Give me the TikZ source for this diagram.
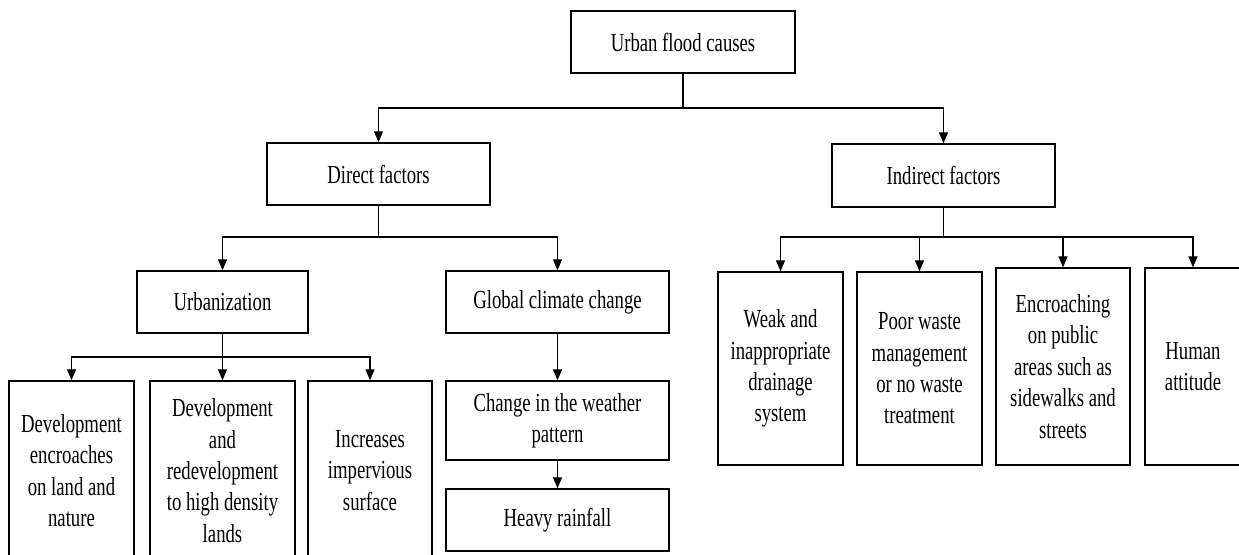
\documentclass[tikz,border=0pt]{standalone}
\usepackage{fontspec}
\setmainfont{Liberation Serif}[FakeStretch=0.72]
\usetikzlibrary{arrows.meta}
\begin{document}
\begin{tikzpicture}[x=1pt,y=-1pt,
  box/.style={draw=black,line width=1.4pt,rectangle,inner sep=0pt,align=center,
    font=\fontsize{26}{31.4}\selectfont},
  conn/.style={line width=1.3pt,-{Triangle[length=11pt,width=9pt]}},
  plain/.style={line width=1.3pt}]
\useasboundingbox (0,0) rectangle (1239,554);
\clip (0,0) rectangle (1239,554);
\fill[white] (0,0) rectangle (1239,554);
% level 0
\node[box,minimum width=224pt,minimum height=62pt] (top) at (683,42) {Urban flood causes};
% level 1
\node[box,minimum width=223pt,minimum height=62pt] (direct) at (378.5,174) {Direct factors};
\node[box,minimum width=223pt,minimum height=63pt] (indirect) at (943.5,175.5) {Indirect factors};
% level 2 (direct)
\node[box,minimum width=171pt,minimum height=62pt] (urban) at (222.5,302) {Urbanization};
\node[box,minimum width=223pt,minimum height=62pt] (global) at (557.5,302) {Global climate change};
% level 3 (urbanization)
\node[box,minimum width=125pt,minimum height=179pt] (dev1) at (71.5,470.5) {Development\\encroaches\\on land and\\nature};
\node[box,minimum width=145pt,minimum height=179pt] (dev2) at (222.5,470.5) {Development\\and\\redevelopment\\to high density\\lands};
\node[box,minimum width=124pt,minimum height=179pt] (imp) at (370,470.5) {Increases\\impervious\\surface};
% global chain
\node[box,minimum width=223pt,minimum height=79pt] (weather) at (557.5,420.5) {Change in the weather\\pattern};
\node[box,minimum width=223pt,minimum height=62pt] (rain) at (557.5,520) {Heavy rainfall};
% indirect children
\node[box,minimum width=125pt,minimum height=193pt] (weak) at (780.5,368.5) {Weak and\\inappropriate\\drainage\\system};
\node[box,minimum width=125pt,minimum height=193pt] (poor) at (919.5,368.5) {Poor waste\\management\\or no waste\\treatment};
\node[box,minimum width=134pt,minimum height=197pt] (encr) at (1063,366.5) {Encroaching\\on public\\areas such as\\sidewalks and\\streets};
\node[box,minimum width=96pt,minimum height=197pt] (human) at (1193,366.5) {Human\\attitude};
% junctions
\coordinate (j0) at (683,108);
\coordinate (j1) at (378.5,237);
\coordinate (j2) at (222.5,357);
\coordinate (j3) at (943.5,237);
% connectors
\draw[plain] (top.south) -- (j0);
\draw[conn] (j0) -| (direct.north);
\draw[conn] (j0) -| (indirect.north);
\draw[plain] (direct.south) -- (j1);
\draw[conn] (j1) -| (urban.north);
\draw[conn] (j1) -| (global.north);
\draw[plain] (urban.south) -- (j2);
\draw[conn] (j2) -| (dev1.north);
\draw[conn] (j2) -- (dev2.north);
\draw[conn] (j2) -| (imp.north);
\draw[conn] (global.south) -- (weather.north);
\draw[conn] (weather.south) -- (rain.north);
\draw[plain] (indirect.south) -- (j3);
\draw[conn] (j3) -| (weak.north);
\draw[conn] (j3) -| (poor.north);
\draw[conn] (j3) -| (encr.north);
\draw[conn] (j3) -| (human.north);
\end{tikzpicture}
\end{document}
